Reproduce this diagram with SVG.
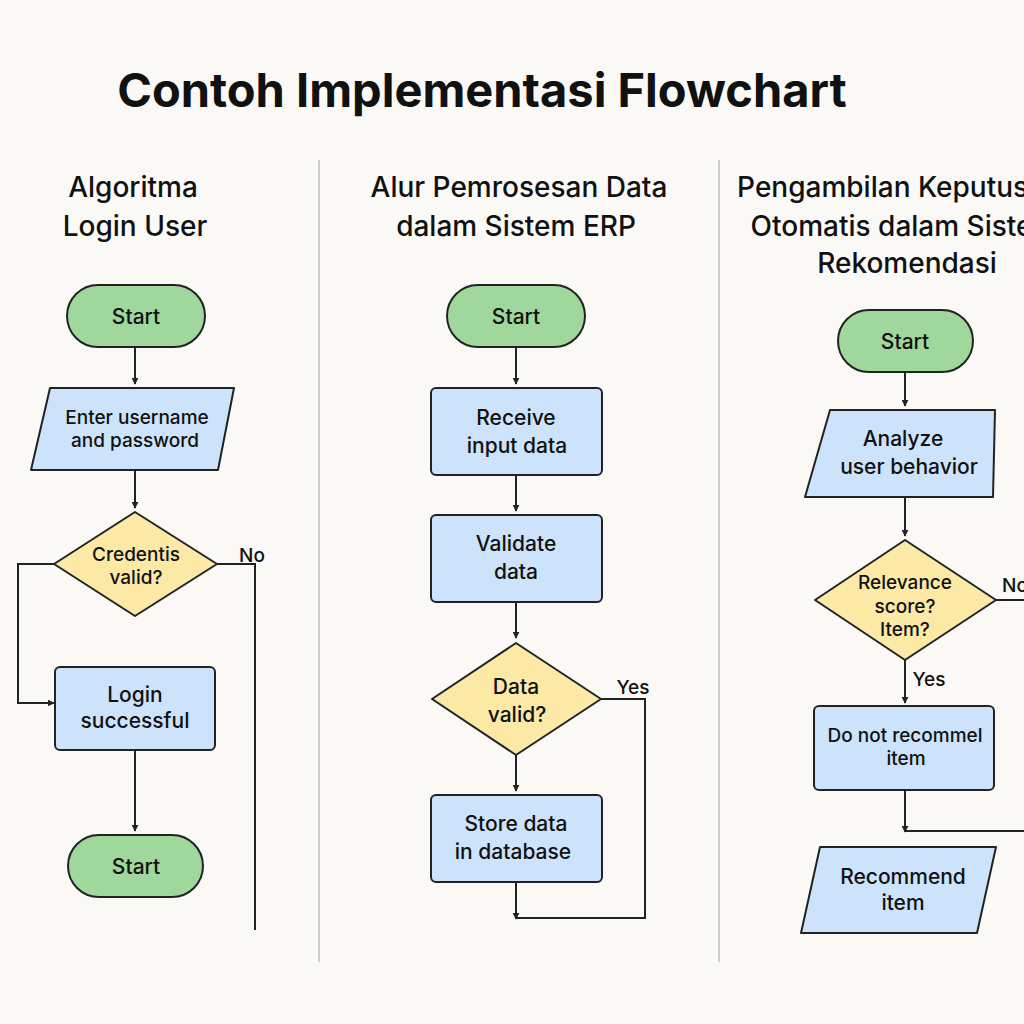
<svg xmlns="http://www.w3.org/2000/svg" width="1024" height="1024" viewBox="0 0 1024 1024">
<defs>
<style>
.t{font-family:Inter,"Noto Sans","Liberation Sans",sans-serif;fill:#111;text-anchor:middle}
.title{font-size:47px;font-weight:700}
.h{font-size:28px;font-weight:500}
.n{font-size:21px;font-weight:500}
.s{font-size:19px;font-weight:500}
.term{fill:#9fd79c;stroke:#222;stroke-width:2}
.proc{fill:#cde3fb;stroke:#222;stroke-width:2}
.dec{fill:#fbe9a5;stroke:#222;stroke-width:2;stroke-linejoin:round}
.ln{fill:none;stroke:#222;stroke-width:2}
.div{stroke:#cfcfcf;stroke-width:2}
</style>
<marker id="ah" viewBox="0 0 10 10" refX="9" refY="5" markerWidth="7" markerHeight="7" markerUnits="userSpaceOnUse" orient="auto">
<path d="M0,0 L10,5 L0,10 z" fill="#222"/>
</marker>
</defs>
<rect width="1024" height="1024" fill="#faf9f6"/>
<text class="t title" x="482" y="107">Contoh Implementasi Flowchart</text>
<line class="div" x1="319" y1="160" x2="319" y2="962"/>
<line class="div" x1="719" y1="160" x2="719" y2="962"/>

<g id="headings">
<text class="t h" x="133" y="197">Algoritma</text>
<text class="t h" x="135" y="236">Login User</text>
<text class="t h" x="519" y="197">Alur Pemrosesan Data</text>
<text class="t h" x="516" y="236">dalam Sistem ERP</text>
<text class="t h" x="899" y="197">Pengambilan Keputusan</text>
<text class="t h" x="904" y="236">Otomatis dalam Sistem</text>
<text class="t h" x="907" y="273">Rekomendasi</text>
</g>

<g id="connectors">
<line class="ln" x1="135" y1="347" x2="135" y2="384" marker-end="url(#ah)"/>
<line class="ln" x1="135" y1="470" x2="135" y2="508" marker-end="url(#ah)"/>
<polyline class="ln" points="54,564 18,564 18,703 54,703" marker-end="url(#ah)"/>
<polyline class="ln" points="217,564 255,564 255,930"/>
<line class="ln" x1="135" y1="750" x2="135" y2="831" marker-end="url(#ah)"/>

<line class="ln" x1="516" y1="347" x2="516" y2="384" marker-end="url(#ah)"/>
<line class="ln" x1="516" y1="475" x2="516" y2="511" marker-end="url(#ah)"/>
<line class="ln" x1="516" y1="602" x2="516" y2="638" marker-end="url(#ah)"/>
<line class="ln" x1="516" y1="755" x2="516" y2="791" marker-end="url(#ah)"/>
<line class="ln" x1="516" y1="882" x2="516" y2="919" marker-end="url(#ah)"/>
<polyline class="ln" points="601,699 645,699 645,918 516,918"/>

<line class="ln" x1="905" y1="372" x2="905" y2="406" marker-end="url(#ah)"/>
<line class="ln" x1="905" y1="497" x2="905" y2="536" marker-end="url(#ah)"/>
<line class="ln" x1="996" y1="600" x2="1026" y2="600"/>
<line class="ln" x1="905" y1="660" x2="905" y2="703" marker-end="url(#ah)"/>
<line class="ln" x1="905" y1="790" x2="905" y2="832" marker-end="url(#ah)"/>
<line class="ln" x1="1026" y1="831" x2="905" y2="831"/>
<text class="t s" x="252" y="562">No</text>
<text class="t s" x="633" y="694">Yes</text>
<text class="t s" x="1015" y="592">No</text>
<text class="t s" x="929" y="686">Yes</text>
</g>

<g id="start1">
<rect class="term" x="67" y="285" width="138" height="62" rx="31"/>
<text class="t n" x="136" y="324">Start</text>
</g>
<g id="input1">
<path class="proc" d="M50,388 L234,388 L218,470 L31,470 Z" stroke-linejoin="round"/>
<text class="t s" x="137" y="424">Enter username</text>
<text class="t s" x="135" y="447">and password</text>
</g>
<g id="decision1">
<path class="dec" d="M135,512 L217,564 L135,616 L54,564 Z"/>
<text class="t s" x="136" y="561">Credentis</text>
<text class="t s" x="136" y="584">valid?</text>
</g>
<g id="login">
<rect class="proc" x="55" y="667" width="160" height="83" rx="5"/>
<text class="t n" x="135" y="702">Login</text>
<text class="t n" x="135" y="728">successful</text>
</g>
<g id="end1">
<rect class="term" x="68" y="835" width="135" height="62" rx="31"/>
<text class="t n" x="136" y="874">Start</text>
</g>

<g id="start2">
<rect class="term" x="447" y="285" width="138" height="62" rx="31"/>
<text class="t n" x="516" y="324">Start</text>
</g>
<g id="receive">
<rect class="proc" x="431" y="388" width="171" height="87" rx="5"/>
<text class="t n" x="516" y="425">Receive</text>
<text class="t n" x="517" y="453">input data</text>
</g>
<g id="validate">
<rect class="proc" x="431" y="515" width="171" height="87" rx="5"/>
<text class="t n" x="516" y="551">Validate</text>
<text class="t n" x="516" y="579">data</text>
</g>
<g id="decision2">
<path class="dec" d="M516,643 L601,699 L516,755 L432,699 Z"/>
<text class="t n" x="516" y="694">Data</text>
<text class="t n" x="517" y="722">valid?</text>
</g>
<g id="store">
<rect class="proc" x="431" y="795" width="171" height="87" rx="5"/>
<text class="t n" x="516" y="831">Store data</text>
<text class="t n" x="513" y="859">in database</text>
</g>

<g id="start3">
<rect class="term" x="838" y="310" width="135" height="62" rx="31"/>
<text class="t n" x="905" y="349">Start</text>
</g>
<g id="analyze">
<path class="proc" d="M830,410 L995,410 L993,497 L805,497 Z" stroke-linejoin="round"/>
<text class="t n" x="903" y="446">Analyze</text>
<text class="t n" x="909" y="474">user behavior</text>
</g>
<g id="decision3">
<path class="dec" d="M905,540 L996,600 L905,660 L815,600 Z"/>
<text class="t s" x="905" y="589">Relevance</text>
<text class="t s" x="905" y="613">score?</text>
<text class="t s" x="905" y="636">Item?</text>
</g>
<g id="donot">
<rect class="proc" x="814" y="706" width="180" height="84" rx="5"/>
<text class="t s" x="905" y="742">Do not recommel</text>
<text class="t s" x="906" y="765">item</text>
</g>
<g id="recommend">
<path class="proc" d="M820,847 L996,847 L977,933 L801,933 Z" stroke-linejoin="round"/>
<text class="t n" x="903" y="884">Recommend</text>
<text class="t n" x="903" y="910">item</text>
</g>
</svg>
